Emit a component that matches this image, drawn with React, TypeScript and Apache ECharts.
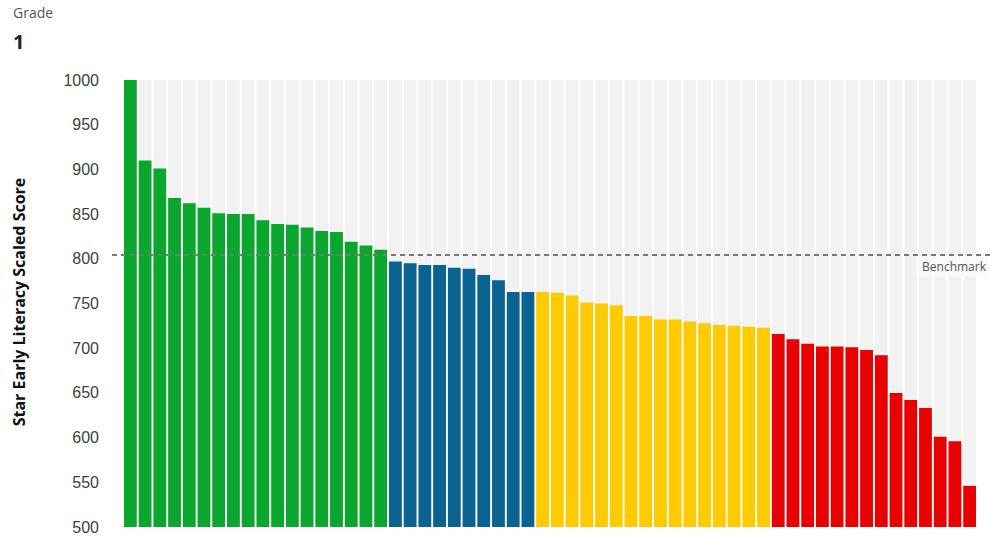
import React, { useEffect, useRef } from "react";
import * as echarts from "echarts";

const GRADE = "1";
const Y_TITLE = "Star Early Literacy Scaled Score";
const BENCHMARK = 805;
const BENCHMARK_LABEL = "Benchmark";

const Y_MIN = 500;
const Y_MAX = 1000;
const Y_STEP = 50;

const greenScores = [1000, 910, 901, 868, 862, 857, 851, 850, 850, 843, 839, 838, 835, 831, 830, 819, 815, 810];
const blueScores = [797, 795, 793, 793, 790, 789, 782, 776, 763, 763];
const yellowScores = [763, 762, 759, 751, 750, 748, 736, 736, 732, 732, 730, 728, 726, 725, 724, 723];
const redScores = [716, 710, 705, 702, 702, 701, 698, 692, 650, 642, 633, 601, 596, 546];

const GREEN = "#0aa62e";
const BLUE = "#0a6390";
const YELLOW = "#fdcb00";
const RED = "#e90000";

export default function App() {
  const ref = useRef<HTMLDivElement>(null);

  useEffect(() => {
    document.body.style.margin = "0";
    if (!ref.current) return;
    const chart = echarts.init(ref.current, undefined, { renderer: "svg" });

    const groups: [number[], string][] = [
      [greenScores, GREEN],
      [blueScores, BLUE],
      [yellowScores, YELLOW],
      [redScores, RED],
    ];
    const data: any[] = [];
    groups.forEach(([vals, color]) => {
      vals.forEach((v) => data.push({ value: v, itemStyle: { color } }));
    });
    const categories = data.map((_, i) => "Student " + (i + 1));

    chart.setOption({
      animation: false,
      grid: { left: 123, right: 15, top: 80, bottom: 12, containLabel: false },
      xAxis: {
        type: "category",
        data: categories,
        axisLine: { show: false },
        axisTick: { show: false },
        axisLabel: { show: false },
        splitLine: { show: false },
      },
      yAxis: {
        type: "value",
        min: Y_MIN,
        max: Y_MAX,
        interval: Y_STEP,
        axisLine: { show: false },
        axisTick: { show: false },
        splitLine: { show: false },
        axisLabel: {
          fontSize: 16,
          color: "#404040",
          fontFamily: "Liberation Sans, Arial, sans-serif",
          margin: 24,
          formatter: (v: number) => String(v),
        },
      },
      graphic: [
        {
          type: "text",
          left: 13,
          top: 5,
          style: {
            text: "Grade",
            fontSize: 14,
            fill: "#555555",
            fontFamily: "Open Sans, sans-serif",
          },
        },
        {
          type: "text",
          left: 13,
          top: 31,
          style: {
            text: GRADE,
            fontSize: 20,
            fontWeight: "bold",
            fill: "#222222",
            fontFamily: "Open Sans, sans-serif",
          },
        },
        {
          type: "text",
          x: 19,
          y: 302,
          rotation: Math.PI / 2,
          style: {
            text: Y_TITLE,
            fontSize: 16,
            fontWeight: "bold",
            fill: "#111111",
            fontFamily: "Open Sans, sans-serif",
            align: "center",
            verticalAlign: "middle",
          },
        },
      ],
      series: [
        {
          type: "bar",
          data,
          barCategoryGap: "13%",
          showBackground: true,
          backgroundStyle: { color: "#f2f2f2" },
          markLine: {
            silent: true,
            symbol: ["none", "none"],
            lineStyle: { color: "#777777", width: 2, type: [5, 4] },
            label: {
              show: true,
              position: "insideEndBottom",
              formatter: BENCHMARK_LABEL,
              fontSize: 12,
              color: "#555555",
              fontFamily: "Open Sans, sans-serif",
              backgroundColor: "rgba(250,250,250,0.9)",
              padding: [4, 2, 4, 6],
              distance: [2, 2],
            },
            data: [
              [
                { coord: [0, BENCHMARK], x: 112 },
                { coord: [data.length - 1, BENCHMARK], x: 990 },
              ],
            ],
          },
        },
      ],
    });

    return () => chart.dispose();
  }, []);

  return <div ref={ref} style={{ width: 992, height: 539 }} />;
}
